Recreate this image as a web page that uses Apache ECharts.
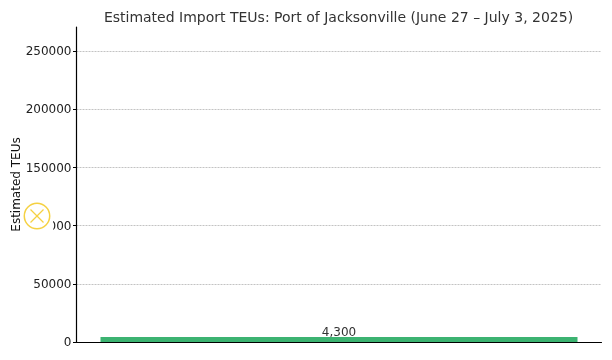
<!DOCTYPE html>
<html><head><meta charset="utf-8">
<style>html,body{margin:0;padding:0;background:#fff}#c{width:612px;height:360px}</style>
<script src="https://cdn.jsdelivr.net/npm/echarts@6/dist/echarts.min.js"></script>
</head><body><div id="c"></div>
<script>
const chartTitle = "Estimated Import TEUs: Port of Jacksonville (June 27 – July 3, 2025)";
const yAxisName = "Estimated TEUs";
const categories = ["Port of Jacksonville"];
const teuValues = [4300];
const valueLabels = ["4,300"];
const FONT = "DejaVu Sans";
const chart = echarts.init(document.getElementById('c'), null, {renderer:'canvas'});
chart.setOption({
  animation:false,
  backgroundColor:'#fff',
  title:{text:chartTitle,left:333.5,top:6,textAlign:'center',textStyle:{fontFamily:FONT,fontSize:14,fontWeight:'normal',color:'#333'}},
  grid:{left:76.5,right:10.5,top:27,bottom:18,outerBoundsMode:'none'},
  xAxis:{type:'category',data:categories,
    axisLine:{show:true,lineStyle:{color:'#000',width:1.2}},
    axisTick:{show:false},axisLabel:{show:false},splitLine:{show:false}},
  yAxis:{type:'value',min:0,max:270600,interval:50000,
    name:yAxisName,nameLocation:'middle',nameGap:54,nameRotate:90,nameMoveOverlap:false,
    nameTextStyle:{fontFamily:FONT,fontSize:12,color:'#111'},
    axisLine:{show:true,lineStyle:{color:'#000',width:1.2}},
    axisTick:{show:true,length:3.5,lineStyle:{color:'#000',width:1}},
    axisLabel:{margin:5,showMaxLabel:false,formatter:v=>'{v|'+v+'}',
      rich:{v:{fontFamily:FONT,fontSize:12,color:'#222',padding:[2,0,0,0]}}},
    splitLine:{show:true,showMaxLine:false,lineStyle:{color:'#b4b4b4',type:[2,1],width:0.8}}},
  series:[{type:'bar',data:teuValues,barWidth:477,
    itemStyle:{color:'#3cb371'},
    label:{show:true,position:'top',distance:-2,formatter:p=>valueLabels[p.dataIndex],
      fontFamily:FONT,fontSize:12,color:'#333'}}],
  graphic:[
    {type:'rect',z:99,shape:{x:24,y:218,width:29,height:15},style:{fill:'#fff'}},
    {type:'circle',z:100,shape:{cx:37,cy:216,r:12.7},style:{fill:'#fff',stroke:'#f5d142',lineWidth:1.5}},
    {type:'line',z:101,shape:{x1:30.5,y1:209.5,x2:43.5,y2:222.5},style:{stroke:'#f5d142',lineWidth:1.3}},
    {type:'line',z:101,shape:{x1:43.5,y1:209.5,x2:30.5,y2:222.5},style:{stroke:'#f5d142',lineWidth:1.3}}
  ]
});
</script></body></html>
